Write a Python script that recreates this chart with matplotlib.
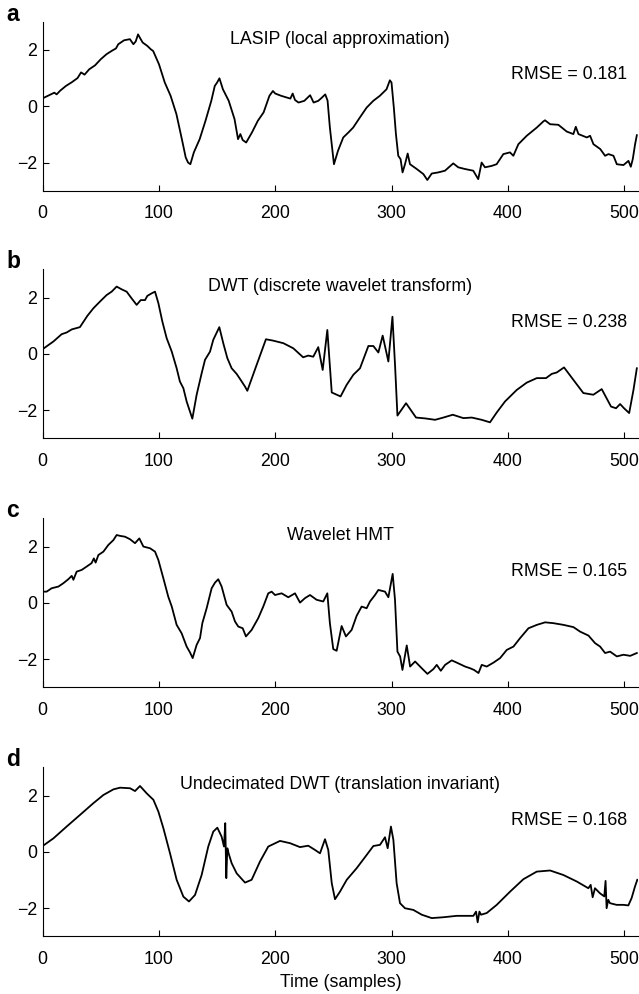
import matplotlib
matplotlib.use("Agg")
import matplotlib.pyplot as plt

plt.rcParams['font.family'] = ['Liberation Sans', 'DejaVu Sans']

# ---- data ----
xa = [0, 5, 10, 12, 15, 20, 25, 30, 33, 36, 40, 45, 50, 55, 60, 63, 65, 70, 75, 78, 80, 82, 84, 86, 90, 93, 95,
      100, 105, 110, 115, 120, 123, 125, 127, 130, 135, 140, 145, 148, 150, 152, 155, 160, 165, 168, 170, 172,
      175, 180, 185, 190, 195, 198, 200, 205, 210, 213, 215, 217, 220, 225, 230, 233, 237, 240, 243, 245,
      247, 250.5, 254, 258.5, 263, 267, 272.8, 278.6, 284.3, 290, 295.7, 298.6, 300, 302, 303.8, 305.8,
      307.8, 309.5, 311.6, 313.9, 315.9, 321.7, 327.4, 330.8, 334.6, 340.3, 346, 353.1, 357.4, 363.2,
      370.3, 374.6, 377.5, 380.4, 386.1, 390.4, 396.2, 401.9, 404.8, 409.1, 416.3, 424.9, 430.6, 432,
      436.4, 443.5, 450.7, 456.4, 458.5, 460.8, 468, 470.8, 473.7, 479.5, 483.7, 486.6, 490.9, 493.8,
      499.5, 503.8, 505.8, 507.5, 509.5, 511]
ya = [0.28, 0.38, 0.48, 0.42, 0.55, 0.72, 0.85, 1.0, 1.2, 1.12, 1.31, 1.45, 1.67, 1.85, 1.98, 2.05, 2.2, 2.34,
      2.38, 2.2, 2.3, 2.55, 2.4, 2.26, 2.14, 2.02, 1.96, 1.49, 0.84, 0.37, -0.28, -1.23, -1.82, -2.0, -2.06,
      -1.64, -1.17, -0.52, 0.19, 0.72, 0.84, 0.99, 0.6, 0.19, -0.46, -1.17, -0.99, -1.2, -1.29, -0.93, -0.52,
      -0.22, 0.37, 0.54, 0.45, 0.37, 0.31, 0.27, 0.45, 0.22, 0.13, 0.19, 0.39, 0.13, 0.19, 0.3, 0.42, 0.2,
      -0.76, -2.06, -1.58, -1.11, -0.93, -0.76, -0.4, -0.05, 0.19, 0.37, 0.6, 0.92, 0.84, -0.05, -0.99,
      -1.76, -1.88, -2.35, -2.06, -1.68, -2.06, -2.23, -2.41, -2.62, -2.39, -2.35, -2.29, -2.03, -2.17,
      -2.23, -2.29, -2.59, -2.0, -2.17, -2.12, -2.06, -1.7, -1.64, -1.76, -1.35, -1.05, -0.76, -0.54,
      -0.5, -0.64, -0.66, -0.9, -0.99, -0.73, -0.99, -1.11, -1.05, -1.35, -1.52, -1.76, -1.7, -1.76,
      -2.06, -2.09, -1.94, -2.15, -1.88, -1.35, -1.03]

xb = [0, 9.2, 16.3, 20.6, 25, 32, 38.4, 43.6, 49.3, 55, 59.3, 63.6, 68, 72.2, 76.5, 80.8, 84.3, 88, 90, 93.7,
      96.6, 99.5, 102.9, 106.6, 111, 115.2, 118, 121, 123.8, 128.7, 132.4, 136.7, 139.6, 143.9, 146.7,
      151.9, 155.3, 158.8, 162.5, 166.8, 170.2, 174, 176, 184, 192, 198.3, 207, 215.5, 224, 228.4,
      232.7, 237, 240.8, 244.8, 248.6, 256.2, 261.4, 267.2, 272.9, 280.1, 284.4, 288.7, 292.4, 297.3,
      300.8, 303.1, 305.1, 312.5, 321.1, 328.9, 337.5, 344.6, 352.7, 361.8, 369, 377.6, 384.7, 390.5,
      397.6, 407.7, 416.3, 424.9, 432.9, 437.8, 442.1, 448.4, 456.4, 465, 473.6, 480.8, 488.8, 493.1,
      496.6, 500, 504.4, 508.1, 511]
yb = [0.17, 0.44, 0.7, 0.76, 0.87, 0.95, 1.35, 1.62, 1.86, 2.09, 2.21, 2.39, 2.29, 2.21, 1.97, 1.74, 1.91,
      1.91, 2.06, 2.15, 2.21, 1.8, 1.15, 0.56, 0.08, -0.51, -0.98, -1.22, -1.69, -2.3, -1.45, -0.69, -0.21,
      0.08, 0.5, 0.95, 0.38, -0.15, -0.51, -0.71, -0.92, -1.16, -1.31, -0.39, 0.52, 0.47, 0.38, 0.2,
      -0.12, -0.06, -0.1, 0.24, -0.57, 0.85, -1.37, -1.51, -1.1, -0.74, -0.51, 0.28, 0.28, 0.05, 0.65,
      -0.27, 1.32, -0.45, -2.19, -1.75, -2.26, -2.29, -2.34, -2.26, -2.16, -2.28, -2.26, -2.34, -2.43,
      -2.08, -1.69, -1.28, -1.02, -0.86, -0.86, -0.71, -0.66, -0.48, -0.92, -1.39, -1.45, -1.25, -1.87,
      -1.93, -1.78, -1.93, -2.1, -1.28, -0.51]

xc = [0, 3.4, 7.7, 13.5, 17.8, 22, 25, 26.4, 29.2, 33.5, 37.8, 42, 44, 45.5, 47.9, 52.2, 56.5, 60.8, 63.6,
      66.5, 70.8, 75.1, 79.4, 83.1, 86.6, 92.3, 96.6, 99.5, 103.8, 108, 111, 115.2, 119.5, 123.8, 126.7,
      129, 132.4, 135.3, 137.3, 141, 145.3, 148.2, 151, 153.9, 158.2, 162.5, 165.4, 168.2, 172, 174.8,
      179.7, 185.4, 189.7, 194, 196.9, 199.8, 205.5, 211.2, 217, 221.3, 225.6, 229.9, 235.6, 241.3,
      244.8, 247, 249.9, 252.8, 257.1, 260.8, 265.7, 270, 274.3, 278.6, 281.5, 285.8, 288.7, 294.4,
      297.3, 301, 303, 305.1, 307.4, 309.4, 313.1, 316, 320.3, 326, 330.9, 336, 338.9, 342.4, 346.1,
      351.8, 356.1, 363.3, 367.6, 371, 374.8, 377.6, 381.9, 387.7, 393.4, 399.1, 404.9, 410.6, 417.8,
      425, 432.1, 439.3, 447.9, 456.5, 462.2, 469.4, 475.1, 479.4, 483.7, 488, 493.8, 499.5, 505.3, 511]
yc = [0.4, 0.4, 0.52, 0.58, 0.7, 0.84, 0.96, 0.82, 1.11, 1.17, 1.29, 1.41, 1.58, 1.43, 1.7, 1.82, 2.06, 2.23,
      2.41, 2.38, 2.35, 2.26, 2.12, 2.29, 2.0, 1.94, 1.82, 1.52, 0.87, 0.22, -0.13, -0.78, -1.08, -1.55,
      -1.76, -1.96, -1.49, -1.25, -0.72, -0.19, 0.52, 0.72, 0.84, 0.58, -0.07, -0.31, -0.66, -0.84, -0.9,
      -1.19, -0.96, -0.54, -0.13, 0.34, 0.4, 0.28, 0.34, 0.2, 0.34, 0.01, 0.17, 0.28, 0.11, 0.05, 0.34,
      -0.72, -1.64, -1.7, -0.82, -1.19, -0.96, -0.46, -0.13, -0.19, 0.05, 0.28, 0.46, 0.4, 0.2, 1.03,
      0.11, -1.73, -1.9, -2.38, -1.51, -2.26, -2.08, -2.32, -2.52, -2.35, -2.2, -2.41, -2.2, -2.04, -2.12,
      -2.26, -2.32, -2.38, -2.49, -2.2, -2.26, -2.12, -1.96, -1.67, -1.55, -1.25, -0.9, -0.78, -0.69,
      -0.72, -0.78, -0.86, -1.02, -1.16, -1.43, -1.55, -1.78, -1.73, -1.9, -1.84, -1.88, -1.78]

xd = [0, 9.2, 20.6, 32, 43.6, 52.2, 60.8, 66.5, 75.1, 79.4, 83.7, 89.4, 95.2, 99.5, 103.8, 109.5, 115.2, 121,
      125.8, 131, 136.7, 142.4, 146.7, 150.2, 153.9, 155.9, 157, 157.9, 158.8, 159.9, 162.5, 166.8, 174,
      179.7, 186.9, 194, 204.1, 212.7, 221.3, 228.4, 234.2, 238.5, 242.8, 245.6, 248.6, 251.4, 255.7,
      261.5, 270, 278.6, 284.4, 290.1, 294.4, 296.7, 299.5, 301.6, 304.4, 307.3, 311.6, 318.8, 326,
      334.6, 344.6, 356.1, 370.4, 372.7, 374.1, 375.6, 377, 381.9, 390.5, 402, 413.4, 424.9, 436.4,
      447.8, 459.3, 469.3, 471.3, 473, 475, 479.3, 483, 484.1, 485, 486.4, 487.9, 493.6, 499.4, 503.7,
      506.5, 509.4, 511.4]
yd = [0.21, 0.48, 0.9, 1.31, 1.73, 2.02, 2.22, 2.28, 2.26, 2.16, 2.34, 2.08, 1.85, 1.43, 0.84, -0.05, -0.99,
      -1.59, -1.76, -1.53, -0.82, 0.19, 0.72, 0.86, 0.54, 0.19, 1.02, -0.93, 0.13, -0.05, -0.4, -0.76,
      -1.09, -0.99, -0.34, 0.19, 0.39, 0.31, 0.17, 0.22, 0.07, -0.05, 0.45, 0.07, -1.11, -1.68, -1.41,
      -0.99, -0.58, -0.11, 0.21, 0.25, 0.52, 0.13, 0.9, 0.43, -1.11, -1.82, -2.0, -2.06, -2.23, -2.35,
      -2.32, -2.27, -2.27, -2.12, -2.5, -2.12, -2.23, -2.17, -1.88, -1.41, -0.97, -0.7, -0.66, -0.82,
      -1.05, -1.29, -1.17, -1.61, -1.29, -1.47, -1.58, -1.03, -2.0, -1.7, -1.82, -1.88, -1.88, -1.9,
      -1.64, -1.23, -0.99]

panel_letters = ['a', 'b', 'c', 'd']
titles = ['LASIP (local approximation)', 'DWT (discrete wavelet transform)',
          'Wavelet HMT', 'Undecimated DWT (translation invariant)']
rmse_labels = ['RMSE = 0.181', 'RMSE = 0.238', 'RMSE = 0.165', 'RMSE = 0.168']
xticks = [0, 100, 200, 300, 400, 500]
yticks = [-2, 0, 2]
xlabel = 'Time (samples)'

series = [(xa, ya), (xb, yb), (xc, yc), (xd, yd)]

W, H = 639, 994
fig = plt.figure(figsize=(W / 100, H / 100), dpi=100)

left = 42.7 / W
width = (638.0 - 42.7) / W
tops = [21.7, 269.4, 518.4, 767.4]
ax_h = 169.0
fs = 12.8

for i, (xs, ys) in enumerate(series):
    bottom = 1 - (tops[i] + ax_h) / H
    ax = fig.add_axes([left, bottom, width, ax_h / H])
    ax.plot(xs, ys, color='black', lw=1.3)
    ax.set_xlim(0, 512)
    ax.set_ylim(-3, 3)
    ax.set_xticks(xticks)
    ax.set_yticks(yticks)
    ax.set_yticklabels(['\u22122', '0', '2'])
    ax.spines['top'].set_visible(False)
    ax.spines['right'].set_visible(False)
    ax.tick_params(direction='in', length=4, width=0.8, labelsize=fs)
    ax.tick_params(axis='x', pad=10.5)
    ax.tick_params(axis='y', pad=4)
    ax.text(256, 2.22, titles[i], ha='center', va='baseline', fontsize=fs)
    ax.text(403, 0.96, rmse_labels[i], ha='left', va='baseline', fontsize=fs)
    fig.text(6 / W, 1 - (tops[i] - 1.0) / H, panel_letters[i], fontsize=16.5,
             fontweight='bold', ha='left', va='baseline')
    if i == 3:
        ax.set_xlabel(xlabel, fontsize=fs)
        ax.xaxis.set_label_coords(0.5, -0.221)

fig.savefig('out.png', dpi=100)
